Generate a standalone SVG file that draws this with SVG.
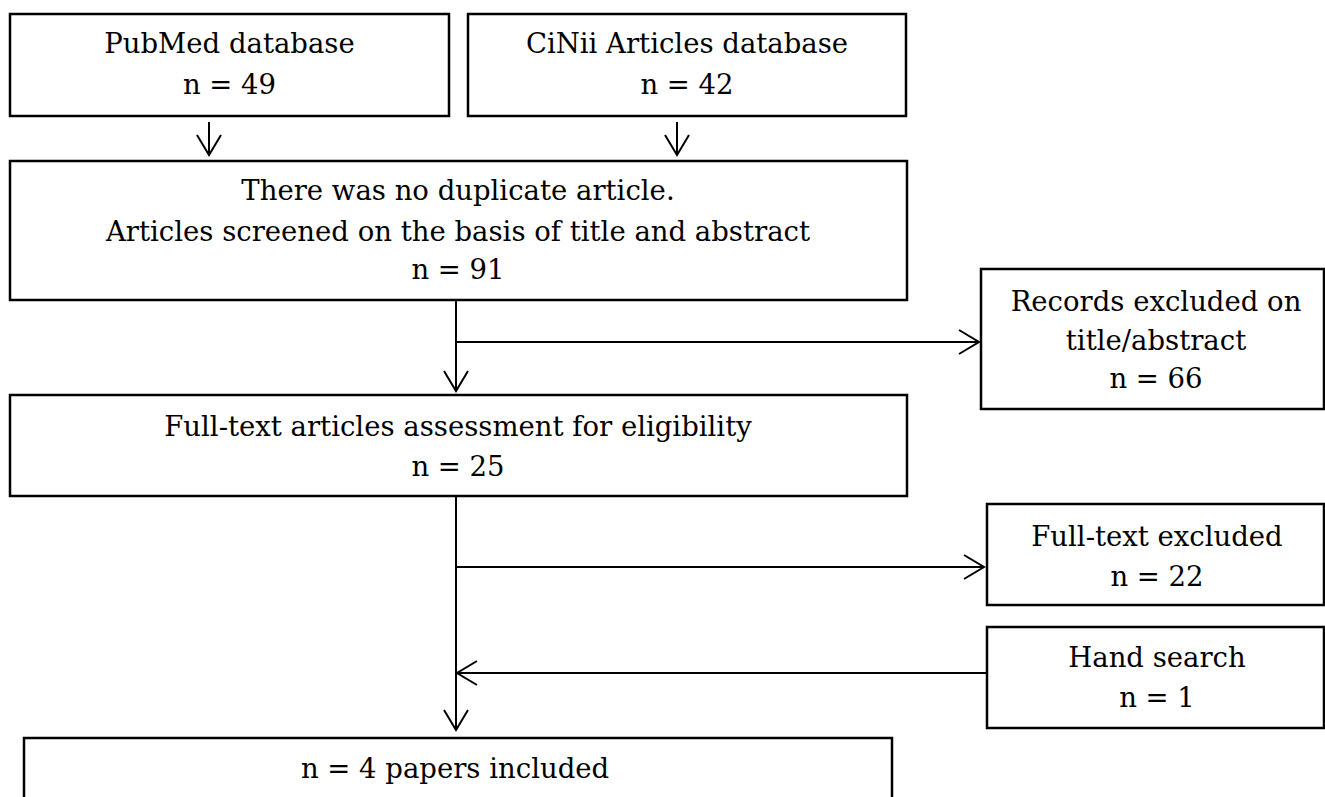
<svg xmlns="http://www.w3.org/2000/svg" width="1325" height="797" viewBox="0 0 1325 797">
<style>
.box{fill:#fff;stroke:#000;stroke-width:2.5}
.lbl{font-family:"DejaVu Serif","Liberation Serif",serif;font-size:27.5px;fill:#000;text-anchor:middle}
.conn{fill:none;stroke:#000;stroke-width:2}
</style>
<defs>
<marker id="arr" markerUnits="userSpaceOnUse" markerWidth="24" markerHeight="28" refX="21" refY="13" orient="auto" viewBox="0 0 24 28">
<path d="M1,1 L21,13 L1,25" fill="none" stroke="#000" stroke-width="2"/>
</marker>
</defs>
<rect width="1325" height="797" fill="#fff"/>
<g id="connectors">
<line class="conn" x1="209" y1="122" x2="209" y2="155" marker-end="url(#arr)"/>
<line class="conn" x1="677" y1="122" x2="677" y2="155" marker-end="url(#arr)"/>
<line class="conn" x1="456" y1="300" x2="456" y2="391" marker-end="url(#arr)"/>
<line class="conn" x1="456" y1="342" x2="979" y2="342" marker-end="url(#arr)"/>
<line class="conn" x1="456" y1="496" x2="456" y2="730" marker-end="url(#arr)"/>
<line class="conn" x1="456" y1="567" x2="984" y2="567" marker-end="url(#arr)"/>
<line class="conn" x1="986" y1="673" x2="457" y2="673" marker-end="url(#arr)"/>
</g>
<g id="pubmed">
<rect class="box" x="10" y="14" width="439" height="102"/>
<text class="lbl" x="229.5" y="53">PubMed database</text>
<text class="lbl" x="229.5" y="94">n = 49</text>
</g>
<g id="cinii">
<rect class="box" x="468" y="14" width="438" height="102"/>
<text class="lbl" x="687" y="53">CiNii Articles database</text>
<text class="lbl" x="687" y="94">n = 42</text>
</g>
<g id="screened">
<rect class="box" x="10" y="161" width="897" height="139"/>
<text class="lbl" x="458" y="200">There was no duplicate article.</text>
<text class="lbl" x="458" y="241">Articles screened on the basis of title and abstract</text>
<text class="lbl" x="458" y="279">n = 91</text>
</g>
<g id="records-excluded">
<rect class="box" x="981" y="269" width="343" height="140"/>
<text class="lbl" x="1156" y="311">Records excluded on</text>
<text class="lbl" x="1156" y="350">title/abstract</text>
<text class="lbl" x="1156" y="388">n = 66</text>
</g>
<g id="fulltext">
<rect class="box" x="10" y="395" width="897" height="101"/>
<text class="lbl" x="458" y="436">Full-text articles assessment for eligibility</text>
<text class="lbl" x="458" y="476">n = 25</text>
</g>
<g id="fulltext-excluded">
<rect class="box" x="987" y="504" width="337" height="101"/>
<text class="lbl" x="1157" y="546">Full-text excluded</text>
<text class="lbl" x="1157" y="586">n = 22</text>
</g>
<g id="hand-search">
<rect class="box" x="987" y="627" width="337" height="101"/>
<text class="lbl" x="1157" y="667">Hand search</text>
<text class="lbl" x="1157" y="707">n = 1</text>
</g>
<g id="included">
<rect class="box" x="24" y="738" width="868" height="80"/>
<text class="lbl" x="455" y="778">n = 4 papers included</text>
</g>
</svg>
